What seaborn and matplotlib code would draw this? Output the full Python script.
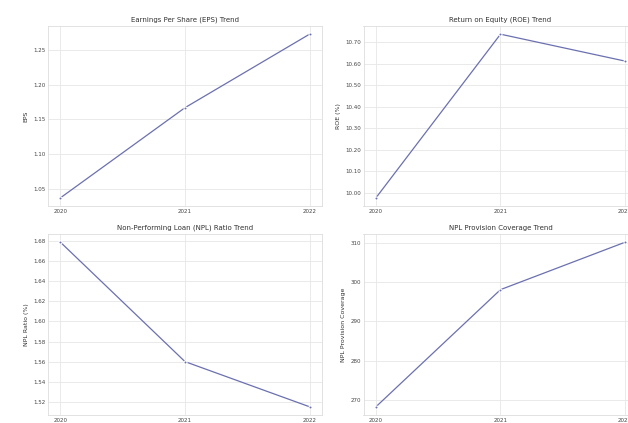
import matplotlib
matplotlib.use("Agg")
import matplotlib.pyplot as plt
import seaborn as sns
import pandas as pd
from matplotlib.ticker import MultipleLocator, FormatStrFormatter

sns.set_theme(style="whitegrid")
plt.rcParams['font.family'] = ['DejaVu Sans']

years = [2020, 2021, 2022]
eps = [1.037, 1.167, 1.273]
roe = [9.977, 10.737, 10.612]
npl = [1.679, 1.560, 1.515]
coverage = [268.2, 298.1, 310.2]

titles = ["Earnings Per Share (EPS) Trend", "Return on Equity (ROE) Trend",
          "Non-Performing Loan (NPL) Ratio Trend", "NPL Provision Coverage Trend"]
ylabels = ["EPS", "ROE (%)", "NPL Ratio (%)", "NPL Provision Coverage"]
series = [eps, roe, npl, coverage]
steps = [0.05, 0.1, 0.02, 10]
fmts = ['%.2f', '%.2f', '%.2f', '%.0f']

fig = plt.figure(figsize=(6.28, 4.23), dpi=100)
W, H = 628, 423
boxes = [(48, 26, 274, 180), (363.5, 26, 274, 180),
         (48, 234, 274, 181), (363.5, 234, 274, 181)]
color = '#6b70b0'

for (x0, y0, w, h), vals, t, yl, st, fm in zip(boxes, series, titles, ylabels, steps, fmts):
    ax = fig.add_axes([x0 / W, 1 - (y0 + h) / H, w / W, h / H])
    df = pd.DataFrame({"Year": years, "Value": vals})
    sns.lineplot(data=df, x="Year", y="Value", marker='o', color=color,
                 linewidth=0.9, markersize=2.2, ax=ax)
    ax.set_title(t, fontsize=5, pad=3, color='#333333')
    ax.set_ylabel(yl, fontsize=4.5, color='#333333', labelpad=3)
    ax.set_xlabel("")
    ax.set_xticks(years)
    ax.yaxis.set_major_locator(MultipleLocator(st))
    ax.yaxis.set_major_formatter(FormatStrFormatter(fm))
    ax.tick_params(labelsize=4, colors='#444444', pad=2, length=0)
    ax.grid(True, color='#e6e6e6', linewidth=0.6)
    for s in ax.spines.values():
        s.set_color('#dddddd')
        s.set_linewidth(0.6)

fig.savefig("out.png", dpi=100)
